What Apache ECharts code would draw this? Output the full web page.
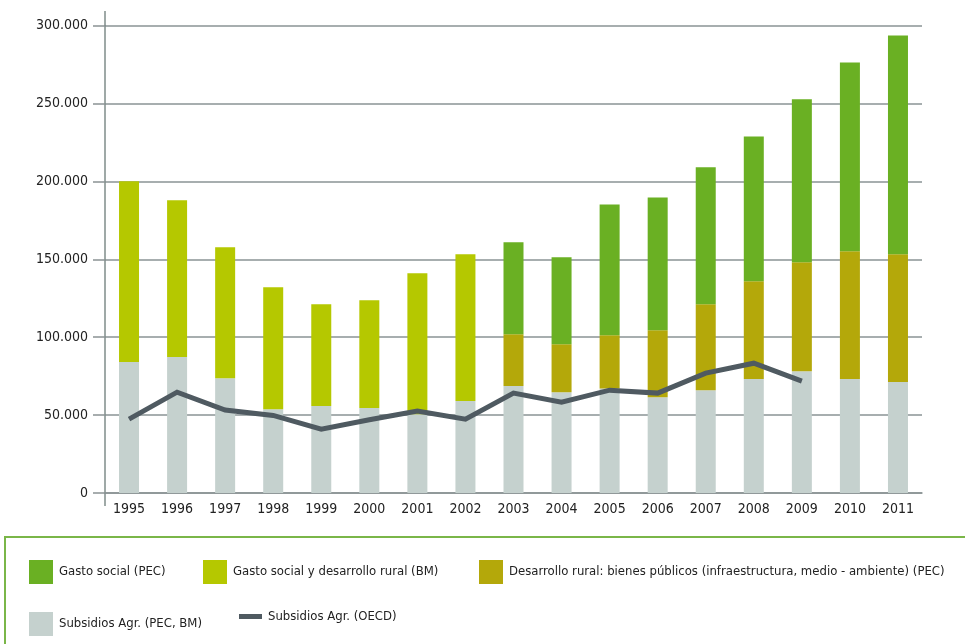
<!DOCTYPE html>
<html>
<head>
<meta charset="utf-8">
<script src="https://cdn.jsdelivr.net/npm/echarts@6/dist/echarts.min.js"></script>
<style>html,body{margin:0;padding:0;background:#fff}#c{width:965px;height:644px}</style>
</head>
<body>
<div id="c"></div>
<script>
const years = ['1995','1996','1997','1998','1999','2000','2001','2002','2003','2004','2005','2006','2007','2008','2009','2010','2011'];
const subsidiosPecBm = [84000, 87200, 73700, 53800, 55800, 54500, 50600, 59000, 68600, 64700, 67000, 61500, 66000, 73100, 78200, 73100, 71200];
const gastoSocialBm = [116000, 100600, 84000, 78200, 65300, 69200, 90400, 94200, null, null, null, null, null, null, null, null, null];
const desarrolloRuralPec = [null, null, null, null, null, null, null, null, 33300, 30800, 34300, 43000, 55100, 62800, 69900, 82000, 82000];
const gastoSocialPec = [null, null, null, null, null, null, null, null, 59000, 55800, 83900, 85200, 87900, 92900, 104500, 121200, 140400];
const subsidiosOecd = [47400, 64700, 53200, 49800, 41000, 47000, 52600, 47400, 64100, 58300, 66000, 64100, 76900, 83300, 71800, null, null];
const yTicks = [0, 50000, 100000, 150000, 200000, 250000, 300000];

const names = ['Gasto social (PEC)', 'Gasto social y desarrollo rural (BM)', 'Desarrollo rural: bienes públicos (infraestructura, medio - ambiente) (PEC)', 'Subsidios Agr. (PEC, BM)', 'Subsidios Agr. (OECD)'];
const colors = {green:'#6ab023', lime:'#b5c800', olive:'#b4a80a', gray:'#c5d1ce', line:'#4f5a61'};
const FONT = "'DejaVu Sans Condensed', 'Liberation Sans Narrow', sans-serif";

function fmt(v){ return String(v).replace(/\B(?=(\d{3})+(?!\d))/g, '.'); }

const chart = echarts.init(document.getElementById('c'), null, {renderer:'canvas'});
const legendText = {fontFamily: FONT, fontSize: 13, color: '#222', padding:[0,0,0,1]};
function lg(name, left, top, extra){
  return Object.assign({data:[name], left:left, top:top, icon:'rect', itemWidth:24, itemHeight:24, textStyle:legendText, selectedMode:false}, extra||{});
}
chart.setOption({
  animation:false,
  grid:{left:105, right:43, top:25.5, bottom:151, containLabel:false},
  xAxis:{
    type:'category', data:years,
    axisLine:{show:true, lineStyle:{color:'#8a9394', width:1.5}},
    axisTick:{show:false},
    axisLabel:{fontFamily:FONT, fontSize:14, color:'#222', margin:9}
  },
  yAxis:{
    type:'value', min:0, max:300000, interval:50000,
    axisLine:{show:true, lineStyle:{color:'#7f8c8a', width:1.5}},
    axisTick:{show:true, length:12, lineStyle:{color:'#8a9394', width:1.5}},
    axisLabel:{fontFamily:FONT, fontSize:14, color:'#222', margin:17, formatter:function(v){return fmt(v);}},
    splitLine:{show:true, lineStyle:{color:'#8a9394', width:1.5}}
  },
  legend:[
    lg(names[0], 24, 555),
    lg(names[1], 198, 555),
    lg(names[2], 474, 555),
    lg(names[3], 24, 607),
    lg(names[4], 234, 605, {itemWidth:23, itemHeight:5})
  ],
  graphic:[
    {type:'rect', shape:{x:5, y:537, width:1000, height:200}, style:{fill:'none', stroke:'#7ab648', lineWidth:2}, silent:true},
    {type:'line', shape:{x1:105, y1:11, x2:105, y2:26}, style:{stroke:'#7f8c8a', lineWidth:1.5}, silent:true},
    {type:'line', shape:{x1:105, y1:493, x2:105, y2:506}, style:{stroke:'#7f8c8a', lineWidth:1.5}, silent:true}
  ],
  series:[
    {name:names[3], type:'bar', stack:'s', data:subsidiosPecBm, barWidth:20, itemStyle:{color:colors.gray}},
    {name:names[1], type:'bar', stack:'s', data:gastoSocialBm, barWidth:20, itemStyle:{color:colors.lime}},
    {name:names[2], type:'bar', stack:'s', data:desarrolloRuralPec, barWidth:20, itemStyle:{color:colors.olive}},
    {name:names[0], type:'bar', stack:'s', data:gastoSocialPec, barWidth:20, itemStyle:{color:colors.green}},
    {name:names[4], type:'line', data:subsidiosOecd, showSymbol:false, symbol:'none', z:5,
      lineStyle:{color:colors.line, width:5, join:'miter'}, itemStyle:{color:colors.line}}
  ]
});
</script>
</body>
</html>
